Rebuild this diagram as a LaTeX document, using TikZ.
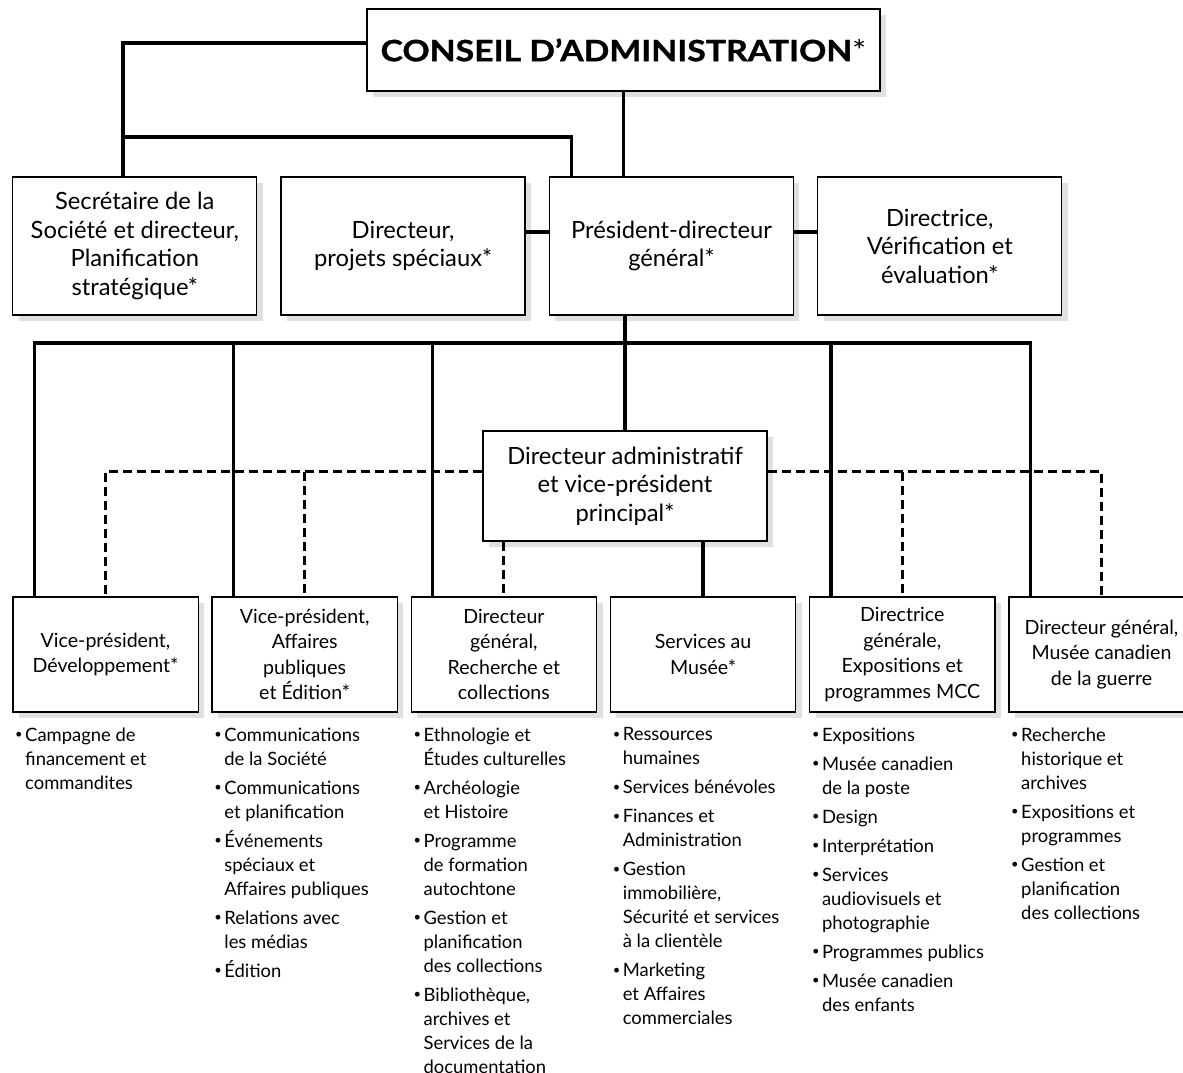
\documentclass[tikz,border=0pt]{standalone}
\usepackage{fontspec}
\setmainfont{Lato}
\usepackage{tikz}
\usetikzlibrary{positioning,shadows,calc}

\newcommand{\bul}{\makebox[8.1pt][l]{\hspace{0.6pt}\raisebox{0.12em}{\scalebox{0.7}{\textbullet}}}}
\newcommand{\ind}{\hspace*{8.1pt}}

\begin{document}
\begin{tikzpicture}[x=0.75pt, y=-0.75pt,
  box/.style={draw, line width=1pt, fill=white, inner sep=2pt, align=center,
    drop shadow={shadow xshift=4.5pt, shadow yshift=-4.5pt, fill=black!12, opacity=1}},
  headbox/.style={box, minimum width=384.75pt, minimum height=61.5pt,
    font=\bfseries\fontsize{22}{26}\selectfont\addfontfeatures{FakeBold=1}},
  rowbox/.style={box, minimum width=183pt, minimum height=103.5pt,
    font=\fontsize{17.8}{21.4}\selectfont},
  unitbox/.style={box, minimum width=139pt, minimum height=86.25pt,
    font=\fontsize{14.7}{19.1}\selectfont},
  duties/.style={inner sep=0pt, align=left, font=\fontsize{13.8}{18}\selectfont},
  link/.style={line width=2.5pt},
  dashline/.style={line width=2.3pt, dash pattern=on 7pt off 3.5pt}
]
  \useasboundingbox (0,0) rectangle (1183,1073);

  % board and direct reports
  \node[headbox] (ca) at (623.5,50) {\scalebox{1.15}[1]{CONSEIL D’ADMINISTRATION{\mdseries\addfontfeatures{FakeBold=0}*}}};
  \node[rowbox] (sec) at (134.8,246) {Secrétaire de la\\Société et directeur,\\Planification\\stratégique*};
  \node[rowbox, right=17.25pt of sec] (dps) {Directeur,\\projets spéciaux*};
  \node[rowbox, right=17.25pt of dps] (pdg) {Président-directeur\\général*};
  \node[rowbox, right=17.25pt of pdg] (dve) {Directrice,\\Vérification et\\évaluation*};

  \node[rowbox, minimum width=213pt, minimum height=82.5pt] (dav) at (625,486)
    {Directeur administratif\\et vice-président\\principal*};

  % units
  \node[unitbox] (b1) at (105.5,654.5) {Vice-président,\\Développement*};
  \node[unitbox, right=9.4pt of b1] (b2) {Vice-président,\\Affaires\\publiques\\et Édition*};
  \node[unitbox, right=9.4pt of b2] (b3) {Directeur\\général,\\Recherche et\\collections};
  \node[unitbox, right=9.4pt of b3] (b4) {Services au\\Musée*};
  \node[unitbox, right=9.4pt of b4] (b5) {Directrice\\générale,\\Expositions et\\programmes MCC};
  \node[unitbox, right=9.4pt of b5] (b6) {Directeur général,\\Musée canadien\\de la guerre};

  \node[duties, below right=11pt and 1.5pt of b1.south west] (l1)
    {\bul Campagne de\\\ind financement et\\\ind commandites};
  \node[duties, below right=11pt and 1.5pt of b2.south west] (l2)
    {\bul Communications\\\ind de la Société\\[3.75pt]
     \bul Communications\\\ind et planification\\[3.75pt]
     \bul Événements\\\ind spéciaux et\\\ind Affaires publiques\\[3.75pt]
     \bul Relations avec\\\ind les médias\\[3.75pt]
     \bul Édition};
  \node[duties, below right=11pt and 1.5pt of b3.south west] (l3)
    {\bul Ethnologie et\\\ind Études culturelles\\[3.75pt]
     \bul Archéologie\\\ind et Histoire\\[3.75pt]
     \bul Programme\\\ind de formation\\\ind autochtone\\[3.75pt]
     \bul Gestion et\\\ind planification\\\ind des collections\\[3.75pt]
     \bul Bibliothèque,\\\ind archives et\\\ind Services de la\\\ind documentation};
  \node[duties, below right=11pt and 1.5pt of b4.south west] (l4)
    {\bul Ressources\\\ind humaines\\[3.75pt]
     \bul Services bénévoles\\[3.75pt]
     \bul Finances et\\\ind Administration\\[3.75pt]
     \bul Gestion\\\ind immobilière,\\\ind Sécurité et services\\\ind à la clientèle\\[3.75pt]
     \bul Marketing\\\ind et Affaires\\\ind commerciales};
  \node[duties, below right=11pt and 1.5pt of b5.south west] (l5)
    {\bul Expositions\\[3.75pt]
     \bul Musée canadien\\\ind de la poste\\[3.75pt]
     \bul Design\\[3.75pt]
     \bul Interprétation\\[3.75pt]
     \bul Services\\\ind audiovisuels et\\\ind photographie\\[3.75pt]
     \bul Programmes publics\\[3.75pt]
     \bul Musée canadien\\\ind des enfants};
  \node[duties, below right=11pt and 1.5pt of b6.south west] (l6)
    {\bul Recherche\\\ind historique et\\\ind archives\\[3.75pt]
     \bul Expositions et\\\ind programmes\\[3.75pt]
     \bul Gestion et\\\ind planification\\\ind des collections};

  % solid reporting lines
  \coordinate (tj) at (123,137);
  \coordinate (bus) at (624,343);
  \draw[link] ([yshift=5.25pt]ca.west) -| (tj |- sec.north);
  \draw[link] (tj) -| ([xshift=17.25pt]pdg.north west);
  \draw[link] (ca.south) -- (ca.south |- pdg.north);
  \draw[link] ([yshift=10.5pt]dps.east) -- ([yshift=10.5pt]pdg.west);
  \draw[link] ([yshift=10.5pt]pdg.east) -- ([yshift=10.5pt]dve.west);
  \draw[link] (dav.north |- pdg.south) -- (dav.north);
  \foreach \b in {b1,b2,b3,b5,b6}
    \coordinate (t\b) at ([xshift=16.5pt]\b.north west);
  \draw[link] (tb1) -- (tb1 |- bus) -- (tb6 |- bus) -- (tb6);
  \foreach \b in {b2,b3,b5}
    \draw[link] (t\b |- bus) -- (t\b);
  \draw[link] (b4.north |- dav.south) -- (b4.north);

  % dashed lines
  \coordinate (dl) at ([yshift=10.7pt]dav.west);
  \coordinate (dr) at ([yshift=10.7pt]dav.east);
  \draw[dashline] (dl) -| (b1.north);
  \draw[dashline] (dr) -| (b6.north);
  \draw[dashline] (b2.north |- dl) -- (b2.north);
  \draw[dashline] (b5.north |- dr) -- (b5.north);
  \draw[dashline] (b3.north |- dav.south) -- (b3.north);
\end{tikzpicture}
\end{document}
